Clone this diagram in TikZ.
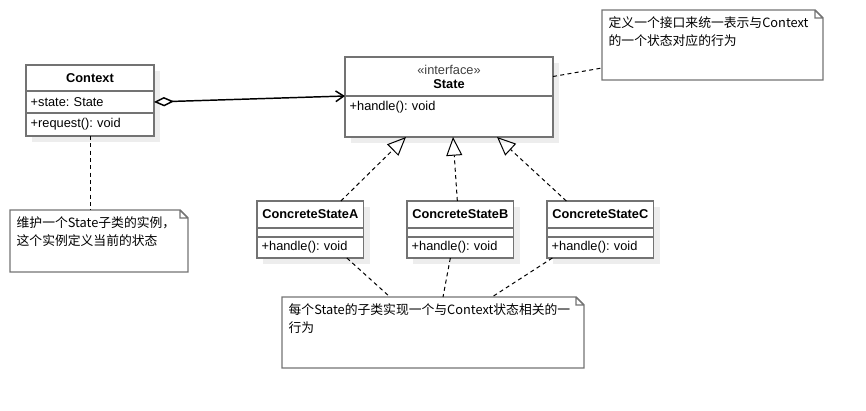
\documentclass[tikz,border=0pt]{standalone}
\usepackage{fontspec}
\setmainfont{Liberation Sans}
\newfontfamily\cjk{Noto Sans CJK SC}
\usetikzlibrary{positioning,arrows.meta,backgrounds}
\frenchspacing

\begin{document}
\begin{tikzpicture}[x=0.75pt,y=-0.75pt,
  font=\fontsize{9.6}{12}\selectfont,
  box/.style={draw=black!55, fill=white, line width=1.1pt, inner sep=0pt, outer sep=0pt},
  head/.style={box, font=\fontsize{9.6}{10.5}\selectfont\bfseries, align=center},
  row/.style={box, inner xsep=3.5pt, align=left},
  note/.style={inner sep=5pt, outer sep=0pt, anchor=north west, font=\cjk\fontsize{9.6}{13.5}\selectfont},
  noteline/.style={draw=black!55, line width=1.1pt},
  agg/.style={draw, line width=1.1pt, {Diamond[open,length=15pt,width=7pt]}-{Straight Barb[length=6pt,width=8pt]}},
  realize/.style={draw, line width=0.75pt, dash pattern=on 3pt off 2.5pt, -{Triangle[open,length=14pt,width=12pt]}},
  notelink/.style={draw, line width=0.75pt, dash pattern=on 3pt off 2.5pt}]
\useasboundingbox (0,0) rectangle (866,410);

% classes
\node[head, minimum width=96pt, minimum height=19.5pt, anchor=north west] (ctx) at (26,65) {Context};
\node[row, text width=89pt, minimum height=16.5pt, below=0pt of ctx] (ctxattr) {+state: State};
\node[row, text width=89pt, minimum height=17.25pt, below=0pt of ctxattr] (ctxops) {+request(): void};

\node[head, minimum width=156pt, minimum height=29.25pt, anchor=north west] (sthead) at (345,57)
  {{\mdseries\color{black!75}«interface»}\\State};
\node[row, text width=149pt, text height=10.5pt, text depth=20.25pt, below=0pt of sthead] (stops) {+handle(): void};

\node[head, minimum width=80pt, minimum height=20.25pt, anchor=north west] (ah) at (257,201) {ConcreteStateA};
\node[box, minimum width=80pt, minimum height=6.75pt, below=0pt of ah] (aattr) {};
\node[row, text width=73pt, minimum height=15.75pt, below=0pt of aattr] (aops) {+handle(): void};

\node[head, minimum width=80pt, minimum height=20.25pt, anchor=north west] (bh) at (407,201) {ConcreteStateB};
\node[box, minimum width=80pt, minimum height=6.75pt, below=0pt of bh] (battr) {};
\node[row, text width=73pt, minimum height=15.75pt, below=0pt of battr] (bops) {+handle(): void};

\node[head, minimum width=80pt, minimum height=20.25pt, anchor=north west] (ch) at (547,201) {ConcreteStateC};
\node[box, minimum width=80pt, minimum height=6.75pt, below=0pt of ch] (cattr) {};
\node[row, text width=73pt, minimum height=15.75pt, below=0pt of cattr] (cops) {+handle(): void};

% notes
\node[note] (n1) at (602,10) {\parbox[t][42.5pt][t]{155.75pt}{\raggedright 定义一个接口来统一表示与Context\\的一个状态对应的行为}};
\node[note] (n2) at (10,210) {\parbox[t][36.5pt][t]{123.5pt}{\raggedright 维护一个State子类的实例，\\这个实例定义当前的状态}};
\node[note] (n3) at (282,297) {\parbox[t][43.25pt][t]{216.5pt}{\raggedright 每个State的子类实现一个与Context状态相关的一\\行为}};
\foreach \n in {n1,n2,n3}
  \draw[noteline] (\n.north west) -- ([xshift=-6pt]\n.north east) -- ([yshift=-6pt]\n.north east)
    -- (\n.south east) -- (\n.south west) -- cycle
    ([xshift=-6pt]\n.north east) |- ([yshift=-6pt]\n.north east);

% shadows
\begin{scope}[on background layer]
\foreach \a/\b in {ctx/ctxops, sthead/stops, ah/aops, bh/bops, ch/cops}
  \fill[black!7] ([xshift=4.5pt,yshift=-4.5pt]\a.north west) rectangle ([xshift=4.5pt,yshift=-4.5pt]\b.south east);
\end{scope}

% connectors
\draw[agg] (ctxattr.east) -- (sthead.south west);
\draw[realize] ([xshift=22.9pt]ah.north) -- ([xshift=-32.25pt]stops.south);
\draw[realize] ([xshift=-2.25pt]bh.north) -- ([xshift=3pt]stops.south);
\draw[realize] ([xshift=-25.5pt]ch.north) -- ([xshift=36pt]stops.south);

\draw[notelink] (ctxops.south) -- (ctxops.south |- n2.north);
\draw[notelink] (sthead.east) -- ([yshift=9pt]n1.south west);
\draw[notelink] ([xshift=27.4pt]aops.south) -- ([xshift=-32.25pt]n3.north);
\draw[notelink] ([xshift=-7.5pt]bops.south) -- ([xshift=7.5pt]n3.north);
\draw[notelink] ([xshift=-36pt]cops.south) -- ([xshift=44.25pt]n3.north);
\end{tikzpicture}
\end{document}
